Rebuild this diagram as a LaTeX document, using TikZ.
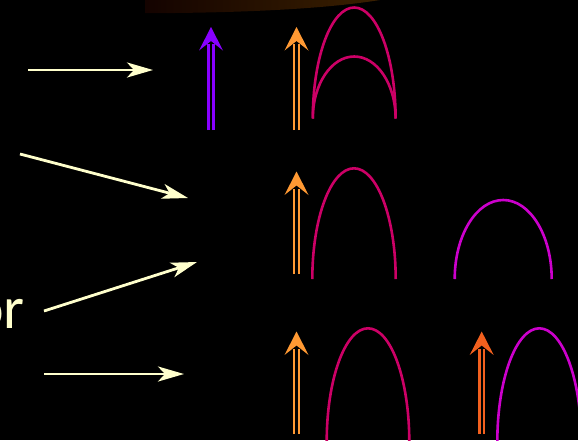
\documentclass[tikz,border=0pt]{standalone}
\usepackage{fontspec}
\setmainfont{Carlito}
\usetikzlibrary{arrows.meta}
\definecolor{cream}{RGB}{255,255,204}
\definecolor{violetc}{RGB}{136,0,255}
\definecolor{orangec}{RGB}{255,153,51}
\definecolor{dorange}{RGB}{242,96,30}
\definecolor{crimsonc}{RGB}{204,0,102}
\definecolor{magentac}{RGB}{204,0,204}
\definecolor{brownl}{RGB}{20,3,0}
\definecolor{brownr}{RGB}{58,32,0}
\tikzset{
  pointer/.style={draw=cream, line width=2.8pt, -{Stealth[length=26pt,width=15pt,inset=7pt]}},
  orbit/.style={line width=2.6pt},
  spinline/.style={line width=2.7pt},
}
\newcommand\spinarrow[5]{% name, colour, x, tip y, bottom y
  \coordinate (#1) at (#3,#4);
  \draw[#2, spinline] (#3-2.4,#5) -- (#3-2.4,#4+17);
  \draw[#2, spinline] (#3+2.4,#5) -- (#3+2.4,#4+17);
  \fill[#2] (#1) -- (#3+12,#4+23.5) -- (#3,#4+14) -- (#3-12,#4+23.5) -- cycle;
}
\begin{document}
\begin{tikzpicture}[x=1pt,y=-1pt]
  \useasboundingbox (0,0) rectangle (578,440);
  \fill[black] (0,0) rectangle (578,440);
  \clip (0,0) rectangle (578,440);
  % brown strip at top
  \shade[left color=brownl, right color=brownr]
    (145,0) -- (145,13) -- (175,13) .. controls (260,12) and (330,8) .. (380,0) -- cycle;
  % text
  \node[anchor=base east, inner sep=0pt, text=cream, font=\fontsize{60}{60}\selectfont] (ortext) at (25,328) {or};
  % pointers
  \coordinate (p1s) at (28,70);   \coordinate (p1e) at (153,70);
  \coordinate (p2s) at (20,154);  \coordinate (p2e) at (188,198);
  \coordinate (p3s) at (44,311);  \coordinate (p3e) at (197,262);
  \coordinate (p4s) at (44,374);  \coordinate (p4e) at (184,374);
  \draw[pointer] (p1s) -- (p1e);
  \draw[pointer] (p2s) -- (p2e);
  \draw[pointer] (p3s) -- (p3e);
  \draw[pointer] (p4s) -- (p4e);
  % spin arrows
  \spinarrow{sa}{violetc}{211}{27}{130}
  \spinarrow{sb}{orangec}{296.5}{27}{130}
  \spinarrow{sc}{orangec}{296.5}{171.5}{274}
  \spinarrow{sd}{orangec}{296.5}{331.5}{434}
  \spinarrow{se}{dorange}{481.7}{331.5}{434}
  % orbitals
  \draw[crimsonc, orbit] (312.8,118.5) coordinate (oa1) arc[start angle=180, end angle=360, x radius=41.4, y radius=111];
  \draw[crimsonc, orbit] (312.8,118.5) coordinate (oa2) arc[start angle=180, end angle=360, x radius=41.4, y radius=62];
  \draw[crimsonc, orbit] (312.3,279) coordinate (ob) arc[start angle=180, end angle=360, x radius=41.7, y radius=110.7];
  \draw[magentac, orbit] (454.7,279) coordinate (oc) arc[start angle=180, end angle=360, x radius=48.5, y radius=79];
  \draw[crimsonc, orbit] (326.7,442) coordinate (od) arc[start angle=180, end angle=360, x radius=41.3, y radius=113.7];
  \draw[magentac, orbit] (497.3,442) coordinate (oe) arc[start angle=180, end angle=360, x radius=42, y radius=113.7];
\end{tikzpicture}
\end{document}
